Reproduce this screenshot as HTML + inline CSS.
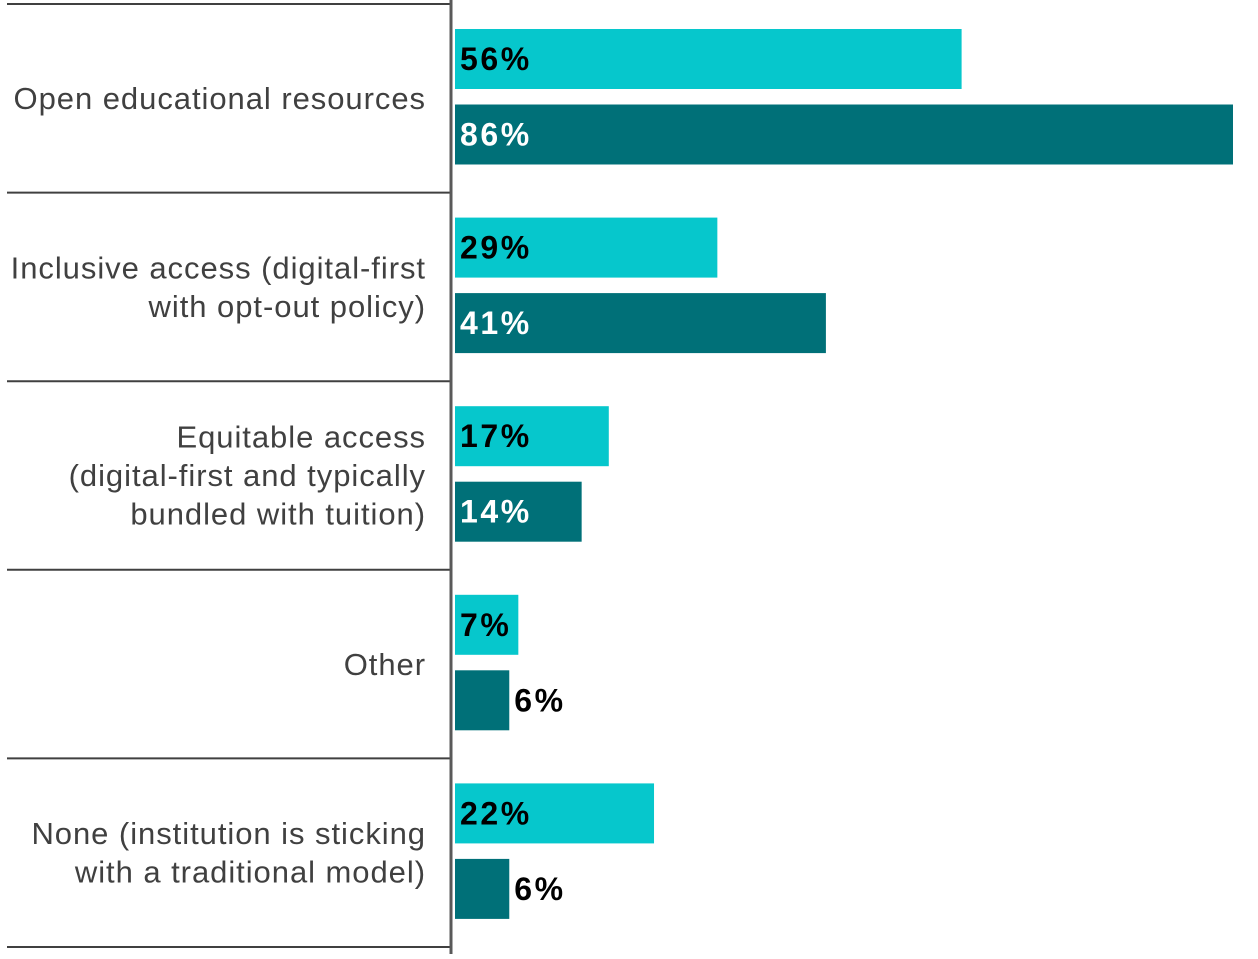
<!DOCTYPE html>
<html><head><meta charset="utf-8"><style>
body{margin:0;background:#fff;width:1258px;height:954px;overflow:hidden;font-family:"Liberation Sans",Arial,sans-serif}
</style></head><body>
<svg id="chart" width="1258" height="954" xmlns="http://www.w3.org/2000/svg"></svg>
<script>
const categories = [["Open educational resources"],["Inclusive access (digital-first","with opt-out policy)"],["Equitable access","(digital-first and typically","bundled with tuition)"],["Other"],["None (institution is sticking","with a traditional model)"]];
const seriesA = [56,29,17,7,22];
const seriesB = [86,41,14,6,6];
const valueLabelsA = ["56%","29%","17%","7%","22%"];
const valueLabelsB = ["86%","41%","14%","6%","6%"];

const svg=document.getElementById('chart');
const NS='http://www.w3.org/2000/svg';
const x0=455, scale=(1233-455)/86;
const xPos=v=>x0+v*scale;
const groupTop=i=>4+i*188.6;
function mk(tag,attrs,parent){const e=document.createElementNS(NS,tag);for(const k in attrs)e.setAttribute(k,attrs[k]);(parent||svg).appendChild(e);return e;}

for(let i=0;i<=categories.length;i++){
  const l=mk('line',{x1:7,x2:451,y1:groupTop(i),y2:groupTop(i),stroke:'#404040','stroke-width':2});
  
  
}
categories.forEach((lines,i)=>{
  const cy=groupTop(i)+94;
  const t=mk('text',{x:426,'text-anchor':'end','font-size':31,'letter-spacing':0.95,fill:'#404040'});
  
  
  lines.forEach((ln,j)=>{
    const ts=mk('tspan',{x:426,y:cy+(j-(lines.length-1)/2)*38.5+11},t);
    ts.textContent=ln;
  });
  [[seriesA[i],valueLabelsA[i],'#06C7CC',25,'#000'],[seriesB[i],valueLabelsB[i],'#007078',100.5,'#fff']].forEach(([v,lab,col,off,tc],k)=>{
    const y=groupTop(i)+off, w=xPos(v)-x0;
    const r=mk('rect',{x:x0,y:y,width:w,height:60,fill:col});
    
    
    const inside=w>60;
    const tx=mk('text',{x:inside?x0+5:xPos(v)+5,y:y+41,'font-size':32,'letter-spacing':2.6,'font-weight':'bold',fill:inside?tc:'#000'});
    
    
    tx.textContent=lab;
  });
});
const ax=mk('line',{x1:451,x2:451,y1:0,y2:954,stroke:'#595959','stroke-width':3});


</script>
</body></html>
